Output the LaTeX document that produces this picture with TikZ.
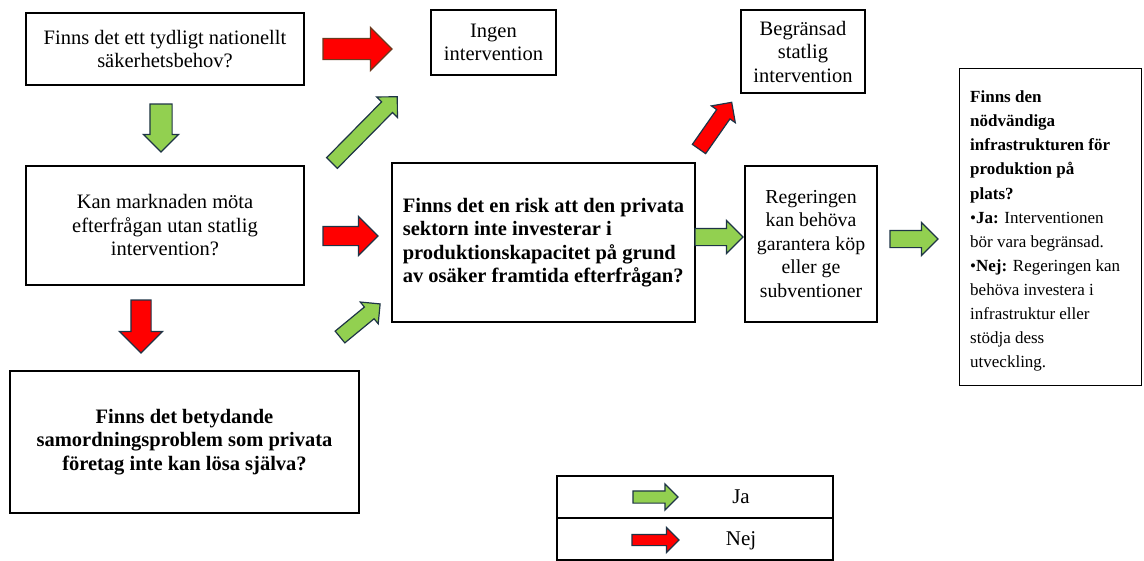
\documentclass[tikz,border=0pt]{standalone}
\usepackage{fontspec}
\setmainfont{Liberation Serif}
\usetikzlibrary{shapes.arrows}
\definecolor{yesfill}{HTML}{92D050}
\definecolor{nofill}{HTML}{FF0000}
\definecolor{arrowline}{HTML}{1E3446}
\definecolor{brownline}{HTML}{6B3A1E}
\tikzset{
  box/.style={draw=black, line width=1.3pt, fill=white, align=center,
              inner sep=4pt, font=\fontsize{20.5}{23.5}\selectfont},
  % block arrow placed by its tail: length, shaft width, head width
  blockarrow/.style n args={3}{single arrow, anchor=tail, minimum height=#1*1pt,
              inner xsep=0pt, inner ysep={#2*0.5pt}, minimum width=1pt,
              single arrow head extend={(#3-#2)*0.5pt}, single arrow tip angle=90,
              line width=1.2pt, draw=arrowline, outer sep=0pt},
  yes/.style={fill=yesfill},
  no/.style={fill=nofill},
  lbl/.style={font=\fontsize{17}{24.1}\selectfont, inner sep=0pt}
}
\begin{document}
\begin{tikzpicture}[x=1pt, y=-1pt]
\useasboundingbox (0,0) rectangle (1144,560);

% question and outcome boxes
\node[box, minimum width=278pt, minimum height=72pt] (q1) at (165,49)
  {Finns det ett tydligt nationellt\\säkerhetsbehov?};
\node[box, minimum width=125pt, minimum height=65pt] (none) at (493.5,42.5)
  {Ingen\\intervention};
\node[box, minimum width=124pt, minimum height=83pt] (limited) at (803,51.5)
  {Begränsad\\statlig\\intervention};
\node[box, minimum width=278pt, minimum height=119pt] (q2) at (165,225.5)
  {Kan marknaden möta\\efterfrågan utan statlig\\intervention?};
\node[box, minimum width=303pt, minimum height=159pt, align=left] (q3) at (543.5,242.5)
  {\bfseries Finns det en risk att den privata\\\bfseries sektorn inte investerar i\\\bfseries produktionskapacitet på grund\\\bfseries av osäker framtida efterfrågan?};
\node[box, minimum width=132pt, minimum height=156pt, font=\fontsize{19.8}{23.5}\selectfont] (gov) at (811,244)
  {Regeringen\\kan behöva\\garantera köp\\eller ge\\subventioner};
\node[box, minimum width=349pt, minimum height=142pt, font=\fontsize{20.5}{23.5}\selectfont\bfseries] (q4) at (184.5,442)
  {Finns det betydande\\samordningsproblem som privata\\företag inte kan lösa själva?};

% infrastructure box with left aligned text
\node[box, minimum width=182pt, minimum height=317pt, anchor=north west] (infobox) at (959,68) {};
\node[lbl, anchor=west, align=left] (infotext) at ([xshift=11pt,yshift=-4pt]infobox.west)
  {\textbf{Finns den}\\\textbf{nödvändiga}\\\textbf{infrastrukturen för}\\\textbf{produktion på}\\\textbf{plats?}\\
   •\textbf{Ja:} Interventionen\\bör vara begränsad.\\•\textbf{Nej:} Regeringen kan\\behöva investera i\\infrastruktur eller\\stödja dess\\utveckling.};

% block arrows between the boxes
\node[blockarrow={69}{20}{42}, no, draw=brownline] (a1) at (323,49) {};
\node[blockarrow={93}{14}{28}, yes, rotate=45.4] (a2) at (332,163) {};
\node[blockarrow={48}{21}{34}, yes, rotate=-90] (a3) at (161,104) {};
\node[blockarrow={55}{18}{38}, no] (a4) at (323,236) {};
\node[blockarrow={52}{14}{27}, yes, rotate=39.5] (a5) at (340,337) {};
\node[blockarrow={53}{19}{42}, no, rotate=-90] (a6) at (141,300) {};
\node[blockarrow={57}{15}{28}, no, rotate=55] (a7) at (699,149) {};
\node[blockarrow={48}{16}{32}, yes] (a8) at (695,237) {};
\node[blockarrow={48}{16}{32}, yes] (a9) at (890,239) {};

% legend
\node[box, minimum width=276pt, minimum height=42pt] (legyes) at (695,497) {};
\node[box, minimum width=276pt, minimum height=42pt] (legno) at (695,539) {};
\node[blockarrow={45}{11}{25}, yes] (la1) at (633,497) {};
\node[blockarrow={47}{10}{24}, no] (la2) at (632,540) {};
\node[lbl, font=\fontsize{21}{24}\selectfont] (tja) at (741,497) {Ja};
\node[lbl, font=\fontsize{21}{24}\selectfont] (tnej) at (741,541) {Nej};
\end{tikzpicture}
\end{document}
